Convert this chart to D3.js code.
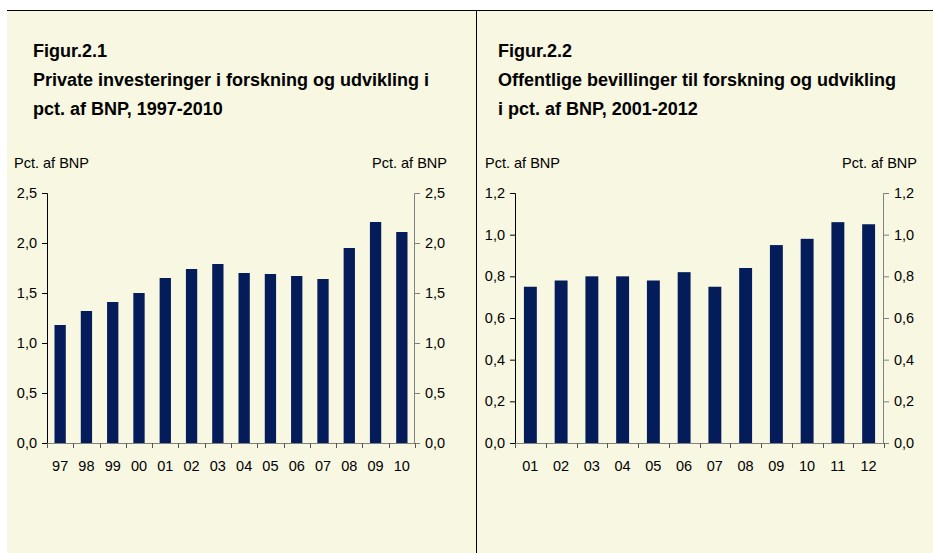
<!DOCTYPE html>
<html>
<head>
<meta charset="utf-8">
<script src="https://cdn.jsdelivr.net/npm/d3@7"></script>
<style>
  body { margin: 0; background: #fff; }
  svg { display: block; font-family: Arial, "Liberation Sans", sans-serif; }
</style>
</head>
<body>
<svg id="chart" width="933" height="553"></svg>
<script>
// figur 2.1
const years1 = ["97", "98", "99", "00", "01", "02", "03", "04", "05", "06", "07", "08", "09", "10"];
const values1 = [1.18, 1.32, 1.41, 1.50, 1.65, 1.74, 1.79, 1.70, 1.69, 1.67, 1.64, 1.95, 2.21, 2.11];
const ticks1 = [0, 0.5, 1.0, 1.5, 2.0, 2.5];

// figur 2.2
const years2 = ["01", "02", "03", "04", "05", "06", "07", "08", "09", "10", "11", "12"];
const values2 = [0.75, 0.78, 0.80, 0.80, 0.78, 0.82, 0.75, 0.84, 0.95, 0.98, 1.06, 1.05];
const ticks2 = [0, 0.2, 0.4, 0.6, 0.8, 1.0, 1.2];

const svg = d3.select("#chart");
const bg = "#f8f7e1";
const barColor = "#041c5a";
const fmt = d => d3.format(".1f")(d).replace(".", ",");
const small = "14.5px";
const big = "18px";

// background panels + frame lines
svg.append("rect").attr("x", 7).attr("y", 10).attr("width", 926).attr("height", 543).attr("fill", bg);
svg.append("line").attr("x1", 7).attr("x2", 933).attr("y1", 10.5).attr("y2", 10.5).attr("stroke", "#000");
svg.append("line").attr("x1", 476.5).attr("x2", 476.5).attr("y1", 10).attr("y2", 553).attr("stroke", "#000");

const drawPanel = (opt) => {
  const g = svg.append("g");

  g.append("text").attr("x", opt.titleX).attr("y", 57)
    .style("font-size", big).style("font-weight", "bold").text(opt.fig);
  opt.title.forEach((t, i) => {
    g.append("text").attr("x", opt.titleX).attr("y", 86 + i * 29)
      .style("font-size", big).style("font-weight", "bold").text(t);
  });

  g.append("text").attr("x", opt.unitL).attr("y", 168).style("font-size", small).text("Pct. af BNP");
  g.append("text").attr("x", opt.unitR).attr("y", 168).attr("text-anchor", "end")
    .style("font-size", small).text("Pct. af BNP");

  let x = d3.scaleBand().domain(opt.cats).range([opt.x0, opt.x1]).paddingInner(opt.pad).paddingOuter(opt.pad / 2);
  let xb = d3.scaleBand().domain(opt.cats).range([opt.x0, opt.x1]);
  let y = d3.scaleLinear().domain([0, opt.max]).range([443, 193]);

  g.selectAll("rect.bar").data(opt.vals).enter().append("rect")
    .attr("class", "bar")
    .attr("x", (d, i) => x(opt.cats[i]))
    .attr("y", d => y(d))
    .attr("width", x.bandwidth())
    .attr("height", d => 443 - y(d))
    .attr("fill", barColor);

  // y axes
  let yl = d3.axisLeft(y).tickValues(opt.ticks).tickSize(5).tickPadding(5).tickFormat(fmt);
  let gl = g.append("g").attr("transform", `translate(${opt.x0},0)`).call(yl);
  gl.select(".domain").attr("stroke", "#000");
  gl.selectAll(".tick line").attr("stroke", "#000");

  let yr = d3.axisRight(y).tickValues(opt.ticks).tickSize(5).tickPadding(5).tickFormat(fmt);
  let gr = g.append("g").attr("transform", `translate(${opt.x1},0)`).call(yr);
  gr.select(".domain").attr("stroke", "#808080");
  gr.selectAll(".tick line").attr("stroke", "#808080");

  [gl, gr].forEach(a => {
    a.selectAll(".domain").attr("d", a === gl ? "M-5,193.5H0.5V443.5H-5" : "M5,193.5H-0.5V443.5H5");
    a.selectAll("text").style("font-size", small).style("font-family", "Arial, 'Liberation Sans', sans-serif").attr("fill", "#000");
  });

  // x axis baseline and category ticks
  g.append("line").attr("x1", opt.x0).attr("x2", opt.x1).attr("y1", 443.5).attr("y2", 443.5).attr("stroke", "#808080");
  let bounds = opt.cats.map(c => xb(c)).concat([opt.x1]);
  g.selectAll("line.xt").data(bounds).enter().append("line")
    .attr("x1", d => Math.round(d) + 0.5).attr("x2", d => Math.round(d) + 0.5)
    .attr("y1", 443).attr("y2", 448).attr("stroke", "#555");
  g.selectAll("text.xl").data(opt.cats).enter().append("text")
    .attr("x", d => xb(d) + xb.bandwidth() / 2)
    .attr("y", 471).attr("text-anchor", "middle")
    .style("font-size", small).text(d => d);
};

drawPanel({
  fig: "Figur.2.1",
  title: ["Private investeringer i forskning og udvikling i", "pct. af BNP, 1997-2010"],
  titleX: 33, unitL: 14, unitR: 447,
  cats: years1, vals: values1, ticks: ticks1, max: 2.5,
  x0: 47, x1: 415, pad: 0.57
});

drawPanel({
  fig: "Figur.2.2",
  title: ["Offentlige bevillinger til forskning og udvikling", "i pct. af BNP, 2001-2012"],
  titleX: 498, unitL: 485, unitR: 917,
  cats: years2, vals: values2, ticks: ticks2, max: 1.2,
  x0: 515, x1: 884, pad: 0.58
});
</script>
</body>
</html>
